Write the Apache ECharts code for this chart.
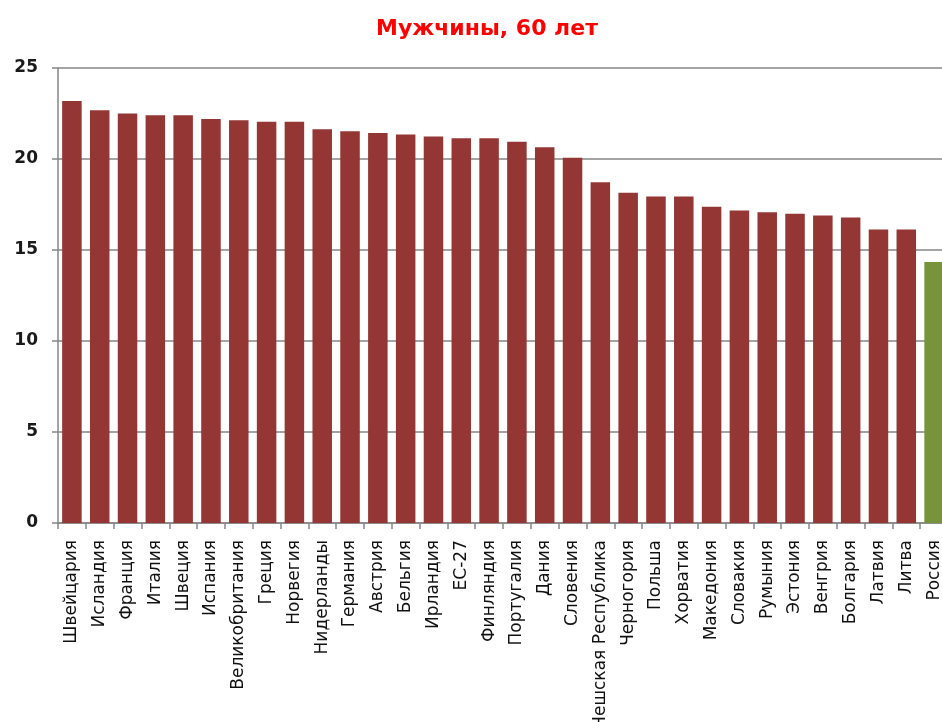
<!DOCTYPE html>
<html><head><meta charset="utf-8">
<script src="https://cdn.jsdelivr.net/npm/echarts@6/dist/echarts.min.js"></script>
<style>html,body{margin:0;padding:0;background:#fff}#c{width:942px;height:722px}</style>
</head><body><div id="c"></div>
<script>
const categories = ["Швейцария","Исландия","Франция","Италия","Швеция","Испания","Великобритания","Греция","Норвегия","Нидерланды","Германия","Австрия","Бельгия","Ирландия","ЕС-27","Финляндия","Португалия","Дания","Словения","Чешская Республика","Черногория","Польша","Хорватия","Македония","Словакия","Румыния","Эстония","Венгрия","Болгария","Латвия","Литва","Россия"];
const values = [23.18,22.68,22.5,22.41,22.41,22.2,22.13,22.04,22.04,21.64,21.53,21.43,21.34,21.23,21.14,21.14,20.95,20.64,20.07,18.72,18.15,17.94,17.94,17.37,17.17,17.08,16.99,16.9,16.79,16.13,16.13,14.34];
const highlight = "Россия";
const yTicks = [0,5,10,15,20,25];

const chart = echarts.init(document.getElementById('c'), null, {renderer:'canvas'});
chart.setOption({
  animation:false,
  title:{text:"Мужчины, 60 лет", left:482, top:13, textAlign:'center',
    textStyle:{color:'#ff0000', fontFamily:'DejaVu Sans', fontWeight:'bold', fontSize:22}},
  grid:{left:58, top:68, width:890, height:455, containLabel:false, outerBoundsMode:'none'},
  xAxis:{type:'category', data:categories,
    axisLine:{lineStyle:{color:'#868686', width:1.5}},
    axisTick:{show:true, alignWithLabel:false, length:6, lineStyle:{color:'#868686', width:1.5}},
    axisLabel:{interval:0, rotate:90, margin:17, color:'#111', fontFamily:'DejaVu Sans', fontSize:17}},
  yAxis:{type:'value', min:yTicks[0], max:yTicks[yTicks.length-1], interval:5,
    axisLine:{show:true, lineStyle:{color:'#868686', width:1.5}},
    axisTick:{show:true, length:6, lineStyle:{color:'#868686', width:1.5}},
    splitLine:{lineStyle:{color:'#868686', width:1.5}},
    axisLabel:{margin:20, color:'#1a1a1a', fontFamily:'DejaVu Sans', fontWeight:'bold', fontSize:17}},
  series:[{type:'bar', barWidth:19.5,
    data: values.map((v,i)=>({value:v, itemStyle:{color: categories[i]===highlight ? '#77933c' : '#943634'}}))}]
});
</script></body></html>
